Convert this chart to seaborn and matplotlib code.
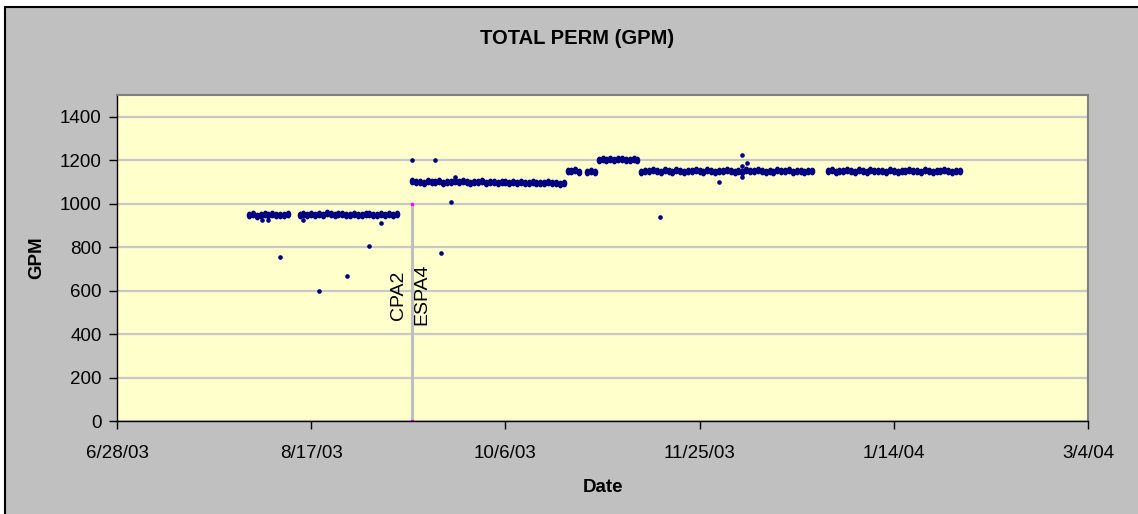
import numpy as np
import pandas as pd
import seaborn as sns
import matplotlib.pyplot as plt
import matplotlib.dates as mdates
from matplotlib.patches import Rectangle

nan = np.nan

# daily permeate flow, first run (starts 8/1/03)
run1_start = "2003-08-01"
run1_gpm = [948, 952, 945, 950, 953, 947, 951, 949, 946, 950, 952, nan, nan,
            950, 954, 948, 951, 947, 953, 950, 955, 952, 949,
            951, 954, 950, 948, 952, 950, 947, 951, 953, 949,
            950, 952, 948, 951, 950, 953]

# daily permeate flow after CPA2 / ESPA4 change (starts 9/12/03)
run2_start = "2003-09-12"
run2_gpm = [1103, 1098, 1101, 1096, 1104, 1100, 1099, 1102, 1097, 1101,
            1100, 1104, 1098, 1102, 1099, 1096, 1101, 1099, 1103, 1097,
            1100, 1098, 1095, 1099, 1101, 1096, 1098, 1094, 1099, 1097,
            1095, 1098, 1093, 1097, 1095, 1099, 1094, 1096, 1092, 1097,
            1152, 1149, 1154, 1147, nan, 1146, 1151, 1148,
            1203, 1207, 1201, 1205, 1199, 1204, 1206, 1200, 1203, 1205, 1201,
            1147,
            1152, 1149, 1155, 1150, 1147, 1153, 1151, 1148, 1154, 1150,
            1146, 1152, 1149, 1155, 1151, 1148, 1153, 1150, 1147, 1152,
            1149, 1154, 1150, 1146, 1152, 1148, 1153, 1151, 1149, 1155,
            1150, 1147, 1152, 1148, 1154, 1151, 1149, 1153, 1147, 1150,
            1152, 1148, 1151, 1149,
            nan, nan, nan,
            1150, 1153, 1148, 1152, 1149, 1155, 1151, 1147, 1153, 1150,
            1148, 1154, 1149, 1152, 1150, 1147, 1153, 1151, 1148, 1152,
            1150, 1155, 1149, 1151, 1147, 1153, 1150, 1148, 1152, 1149,
            1154, 1150, 1148, 1152, 1150]

# odd single readings
odd_dates = ["2003-08-04 05:00", "2003-08-05 19:00", "2003-08-09 00:00", "2003-08-15 00:00",
             "2003-08-19 00:00", "2003-08-26 05:00", "2003-09-01 00:00", "2003-09-04 00:00",
             "2003-09-12 00:00", "2003-09-18 00:00", "2003-09-19 07:00", "2003-09-22 00:00",
             "2003-09-23 00:00", "2003-11-14 17:00", "2003-11-29 22:00",
             "2003-12-05 19:00", "2003-12-05 19:00", "2003-12-05 19:00",
             "2003-12-07 02:00"]
odd_gpm = [923, 925, 755, 923, 598, 667, 807, 911, 1201, 1202, 775, 1008,
           1124, 940, 1100, 1223, 1125, 1172, 1189]

# membrane change marker
event_date = "2003-09-12"
event_gpm = [0, 1000]
labels = ["CPA2", "ESPA4"]
label_dates = ["2003-09-08 12:00", "2003-09-14 10:00"]
label_gpm = [465, 442]

x_ticks = pd.date_range("2003-06-28", periods=6, freq="50D")

daily = pd.concat([
    pd.DataFrame({"Date": pd.date_range(run1_start, periods=len(run1_gpm)), "GPM": run1_gpm}),
    pd.DataFrame({"Date": pd.date_range(run2_start, periods=len(run2_gpm)), "GPM": run2_gpm}),
]).dropna()
odd = pd.DataFrame({"Date": pd.to_datetime(odd_dates, format="ISO8601"), "GPM": odd_gpm})

sns.set_style("white", {"axes.facecolor": "#FFFFCC"})
plt.rcParams['font.family'] = ['Liberation Sans', 'DejaVu Sans']
plt.rcParams['text.color'] = 'black'
plt.rcParams['xtick.labelcolor'] = 'black'
plt.rcParams['ytick.labelcolor'] = 'black'

fig = plt.figure(figsize=(11.38, 5.14), dpi=100, facecolor="white")
fig.patches.append(Rectangle((4.5 / 1138, -0.05), 1.2, 1.05 - 6.5 / 514,
                             transform=fig.transFigure, facecolor="#C0C0C0",
                             edgecolor="black", linewidth=1.5, zorder=-10))
ax = fig.add_axes([117 / 1138, 93 / 514, 971 / 1138, 326 / 514])

# blob-ish marker, a little taller than wide
t = np.linspace(0, 2 * np.pi, 20)
blob = list(zip(0.72 * np.cos(t), np.sin(t)))

ax.plot(pd.to_datetime([event_date, event_date]), event_gpm, color="#BFBFBF",
        lw=2.2, zorder=1)
ax.plot(pd.to_datetime([event_date, event_date]), event_gpm, ls="none",
        marker="s", ms=2, color="#FF00FF", zorder=2)

sns.scatterplot(data=daily, x="Date", y="GPM", ax=ax, color="#000080",
                marker=blob, s=32, linewidth=0, zorder=3)
sns.scatterplot(data=odd, x="Date", y="GPM", ax=ax, color="#000080",
                marker="o", s=11, linewidth=0, zorder=3)

for lab, d, v in zip(labels, label_dates, label_gpm):
    ax.text(pd.Timestamp(d), v, lab, rotation=90, ha="center", va="bottom",
            fontsize=14)

ax.set_xlim(x_ticks[0], x_ticks[-1])
ax.set_ylim(0, 1500)
ax.set_xticks(x_ticks)
ax.xaxis.set_major_formatter(plt.FuncFormatter(
    lambda v, p: (lambda d: f"{d.month}/{d.day}/{d:%y}")(mdates.num2date(v))))
ax.set_yticks(range(0, 1401, 200))
ax.yaxis.grid(True, color="#C8C8C8", lw=1.6)
ax.set_axisbelow(True)

ax.tick_params(axis="both", direction="out", length=6, width=1, color="black",
               labelsize=13.5, pad=5, bottom=True, left=True)
ax.tick_params(axis="x", pad=11)
for side in ["left", "bottom"]:
    ax.spines[side].set_color("black")
    ax.spines[side].set_linewidth(1)
for side in ["top", "right"]:
    ax.spines[side].set_color("#808080")
    ax.spines[side].set_linewidth(1.5)

ax.set_xlabel("")
ax.set_ylabel("")
fig.text(0.507, 1 - 38 / 514, "TOTAL PERM (GPM)", ha="center", va="center",
         fontsize=14.5, fontweight="bold")
fig.text(37 / 1138, 1 - 258 / 514, "GPM", ha="center", va="center",
         rotation=90, fontsize=13.5, fontweight="bold")
fig.text(603 / 1138, 1 - 488 / 514, "Date", ha="center", va="center",
         fontsize=13.5, fontweight="bold")

fig.savefig("out.png", dpi=100, facecolor=fig.get_facecolor())
